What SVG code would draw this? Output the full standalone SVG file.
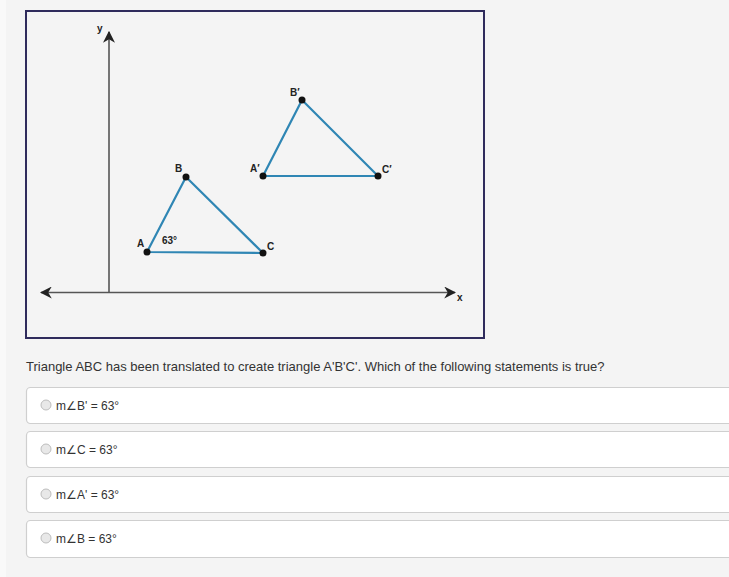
<svg xmlns="http://www.w3.org/2000/svg" width="729" height="577" viewBox="0 0 729 577">
<style>
.lbl{font-family:"Liberation Sans",Arial,sans-serif;font-weight:bold;font-size:10px;fill:#222}
.tri{fill:none;stroke:#2f86b4;stroke-width:2.2;stroke-linejoin:round}
.pt{fill:#111}
.axis{stroke:#555;stroke-width:1.6;fill:none}
.q{font-family:"Liberation Sans",Arial,sans-serif;font-size:12px;fill:#333}
.opt{fill:#fff;stroke:#cfcfcf;stroke-width:1.2}
.radio{fill:#e8e8e8;stroke:#bdbdbd;stroke-width:1}
</style>
<defs>
<marker id="ah2" viewBox="0 0 10 10" refX="9" refY="5" markerWidth="12" markerHeight="12" orient="auto-start-reverse" markerUnits="userSpaceOnUse">
<path d="M0,0 L10,5 L0,10 L3,5 z" fill="#222"/>
</marker>
</defs>
<rect width="729" height="577" fill="#f4f4f4"/>
<rect x="0" y="0" width="6" height="577" fill="#f9f9f9"/>
<g id="frame">
<rect x="26" y="11" width="458" height="327" fill="#f4f4f4" stroke="#2f2b5c" stroke-width="2"/>
</g>
<g id="axes">
<line class="axis" x1="109" y1="293" x2="109" y2="32" marker-end="url(#ah2)"/>
<line class="axis" x1="41" y1="292.5" x2="455" y2="292.5" marker-start="url(#ah2)" marker-end="url(#ah2)"/>
<text class="lbl" x="97" y="32">y</text>
<text class="lbl" x="457" y="301">x</text>
</g>
<g id="triangle-ABC">
<polygon class="tri" points="147,252 186,177 263,253"/>
<circle class="pt" cx="147" cy="252" r="3.5"/>
<circle class="pt" cx="186" cy="177" r="3.5"/>
<circle class="pt" cx="263" cy="253" r="3.5"/>
<text class="lbl" x="137" y="247">A</text>
<text class="lbl" x="175" y="172">B</text>
<text class="lbl" x="267" y="250">C</text>
<text class="lbl" x="162" y="244">63°</text>
</g>
<g id="triangle-A1B1C1">
<polygon class="tri" points="263,176 302,100 378,176"/>
<circle class="pt" cx="263" cy="176" r="3.5"/>
<circle class="pt" cx="302" cy="100" r="3.5"/>
<circle class="pt" cx="378" cy="176" r="3.5"/>
<text class="lbl" x="250" y="172">A′</text>
<text class="lbl" x="290" y="96">B′</text>
<text class="lbl" x="382" y="173">C′</text>
</g>
<g id="question">
<text class="q" x="26" y="371" style="font-size:13px">Triangle ABC has been translated to create triangle A'B'C'. Which of the following statements is true?</text>
</g>
<g id="option1">
<rect class="opt" x="26.5" y="387.5" width="710" height="36" rx="4"/>
<circle class="radio" cx="46" cy="405" r="5"/>
<text class="q" x="56" y="410">m∠B' = 63°</text>
</g>
<g id="option2">
<rect class="opt" x="26.5" y="431.5" width="710" height="36" rx="4"/>
<circle class="radio" cx="46" cy="449" r="5"/>
<text class="q" x="56" y="454">m∠C = 63°</text>
</g>
<g id="option3">
<rect class="opt" x="26.5" y="476.5" width="710" height="36" rx="4"/>
<circle class="radio" cx="46" cy="494" r="5"/>
<text class="q" x="56" y="499">m∠A' = 63°</text>
</g>
<g id="option4">
<rect class="opt" x="26.5" y="520.5" width="710" height="37" rx="4"/>
<circle class="radio" cx="46" cy="538" r="5"/>
<text class="q" x="56" y="543">m∠B = 63°</text>
</g>
</svg>
